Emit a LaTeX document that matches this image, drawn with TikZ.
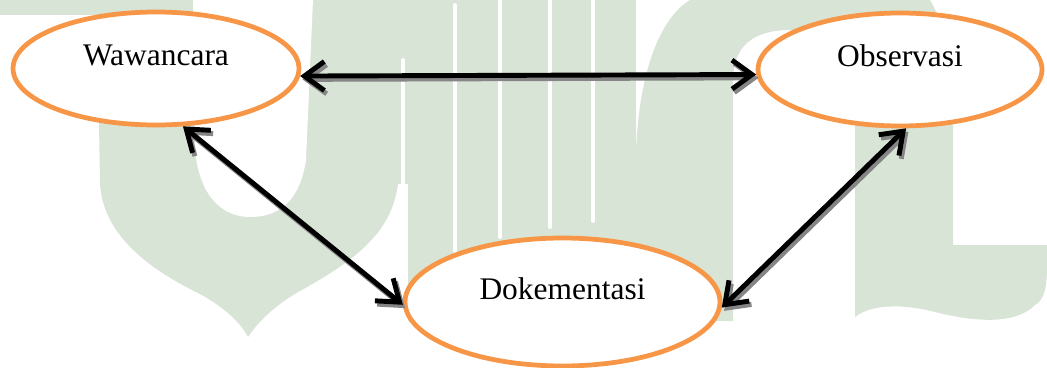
\documentclass[tikz,border=0pt]{standalone}
\usepackage{fontspec}
\setmainfont{Liberation Serif}
\usepackage{xcolor}
\usepackage{tikz}
\usetikzlibrary{arrows.meta,shapes.geometric}
\definecolor{MethodOrange}{HTML}{F79646}
\definecolor{ShadowGray}{HTML}{858585}
\definecolor{MarkGreen}{HTML}{D8E4D5}
\tikzset{
  barbtips/.style={arrows={Straight Barb[length=4mm,width=5.8mm]-Straight Barb[length=4mm,width=5.8mm]}},
  method/.style={ellipse,draw=MethodOrange,line width=2.7pt,fill=white,inner sep=0pt,
    text height=0.45cm,text depth=0.55cm,font=\fontsize{17.9}{20}\selectfont},
  linkarrow/.style={barbtips,line width=2.8pt,
    preaction={draw=ShadowGray,barbtips,line width=2.8pt,
      transform canvas={shift={(1.3pt,-1.9pt)}}}}
}
\begin{document}
\begin{tikzpicture}[x=0.02cm,y=-0.02cm]
  \useasboundingbox (0,0) rectangle (1047,368);
  % watermark in the back
  \fill[MarkGreen] (0,0) rectangle (200,15);
  \fill[MarkGreen] (97,0) -- (100,184) .. controls (103,230) and (140,265) .. (200,294)
    .. controls (225,308) and (240,322) .. (248,337) .. controls (258,322) and (275,305) .. (300,291)
    .. controls (360,258) and (392,230) .. (398,184) -- (398,0) -- cycle;
  \fill[white] (193,0) -- (195,150) .. controls (200,200) and (225,217) .. (250,217)
    .. controls (280,217) and (300,200) .. (306,160) -- (313,0) -- cycle;
  \fill[MarkGreen] (398,0) rectangle (636,321);
  \fill[MarkGreen] (636,321) -- (636,150) .. controls (640,60) and (665,15) .. (690,0) -- (930,0)
    .. controls (945,25) and (953,60) .. (953,130) -- (953,245) -- (1047,245) -- (1047,265)
    .. controls (1047,285) and (1045,300) .. (1035,305) .. controls (1015,325) and (975,322) .. (935,312)
    .. controls (900,303) and (870,305) .. (855,317) -- (855,80)
    .. controls (855,45) and (845,30) .. (820,30) -- (790,30)
    .. controls (755,30) and (733,45) .. (733,80) -- (733,321) -- cycle;
  \foreach \xw/\ya/\yb in {403/60/330, 455/5/251, 500/-5/237, 550/-5/227, 593/-5/221}
    \draw[white,line width=2.2pt,line cap=round] (\xw,\ya) -- (\xw,\yb);
  \fill[white] (398,184) rectangle (408,330);
  % the three methods
  \node[method,minimum width=5.72cm,minimum height=2.26cm] (wawa) at (156,68.5) {Wawancara};
  \node[method,minimum width=5.68cm,minimum height=2.26cm] (obs) at (900,69.5) {Observasi};
  \node[method,minimum width=6.3cm,minimum height=2.56cm] (dok) at (562.5,302) {Dokementasi};
  \draw[linkarrow] (wawa.-3.2) -- (obs.182.7);
  \draw[linkarrow] (wawa.-65) -- (dok.181);
  \draw[linkarrow] (dok.-2.5) -- (obs.-84);
\end{tikzpicture}
\end{document}
